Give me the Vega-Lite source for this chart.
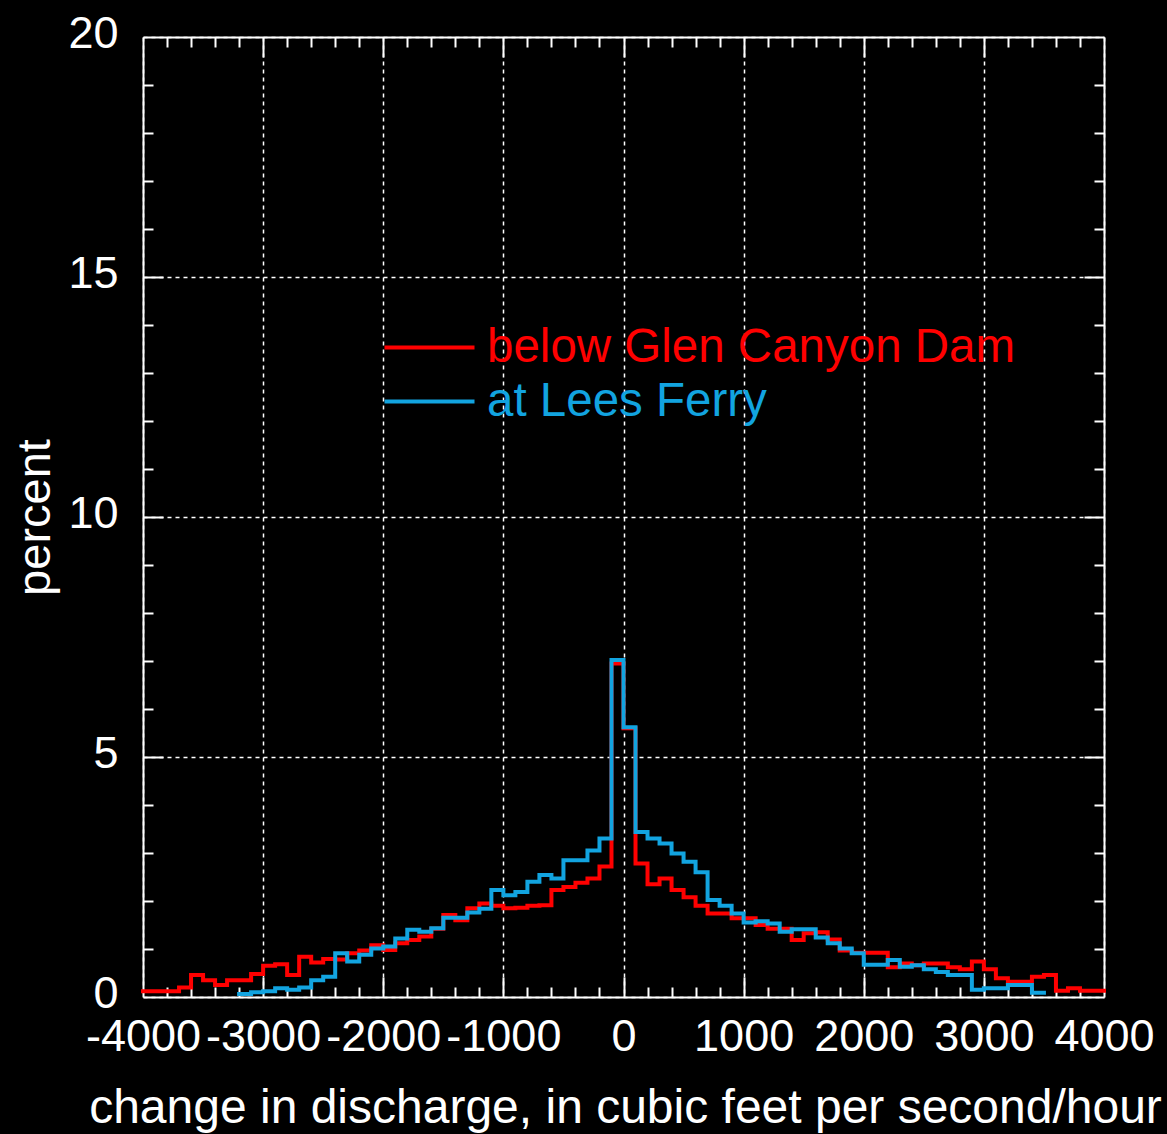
{
  "$schema": "https://vega.github.io/schema/vega-lite/v6.json",
  "width": 961,
  "height": 960,
  "autosize": {"type": "none"},
  "padding": {"left": 143, "top": 37, "right": 63, "bottom": 137},
  "background": "#000000",
  "config": {
    "view": {"stroke": null},
    "font": "Liberation Sans",
    "axis": {"domainColor": "#ffffff", "domainWidth": 2, "tickColor": "#ffffff", "tickWidth": 2, "labelColor": "#ffffff", "titleColor": "#ffffff", "gridColor": "#ffffff", "gridWidth": 1.5, "gridDash": [4, 4], "gridOpacity": 1}
  },
  "data": {"values": [
    {"s": "below Glen Canyon Dam", "x": -4000, "p": 0.12},
    {"s": "below Glen Canyon Dam", "x": -3900, "p": 0.12},
    {"s": "below Glen Canyon Dam", "x": -3800, "p": 0.12},
    {"s": "below Glen Canyon Dam", "x": -3700, "p": 0.2},
    {"s": "below Glen Canyon Dam", "x": -3600, "p": 0.46},
    {"s": "below Glen Canyon Dam", "x": -3500, "p": 0.35},
    {"s": "below Glen Canyon Dam", "x": -3400, "p": 0.25},
    {"s": "below Glen Canyon Dam", "x": -3300, "p": 0.35},
    {"s": "below Glen Canyon Dam", "x": -3200, "p": 0.35},
    {"s": "below Glen Canyon Dam", "x": -3100, "p": 0.48},
    {"s": "below Glen Canyon Dam", "x": -3000, "p": 0.65},
    {"s": "below Glen Canyon Dam", "x": -2900, "p": 0.68},
    {"s": "below Glen Canyon Dam", "x": -2800, "p": 0.46},
    {"s": "below Glen Canyon Dam", "x": -2700, "p": 0.84},
    {"s": "below Glen Canyon Dam", "x": -2600, "p": 0.72},
    {"s": "below Glen Canyon Dam", "x": -2500, "p": 0.79},
    {"s": "below Glen Canyon Dam", "x": -2400, "p": 0.78},
    {"s": "below Glen Canyon Dam", "x": -2300, "p": 0.91},
    {"s": "below Glen Canyon Dam", "x": -2200, "p": 0.97},
    {"s": "below Glen Canyon Dam", "x": -2100, "p": 1.08},
    {"s": "below Glen Canyon Dam", "x": -2000, "p": 0.98},
    {"s": "below Glen Canyon Dam", "x": -1900, "p": 1.12},
    {"s": "below Glen Canyon Dam", "x": -1800, "p": 1.19},
    {"s": "below Glen Canyon Dam", "x": -1700, "p": 1.26},
    {"s": "below Glen Canyon Dam", "x": -1600, "p": 1.42},
    {"s": "below Glen Canyon Dam", "x": -1500, "p": 1.71},
    {"s": "below Glen Canyon Dam", "x": -1400, "p": 1.6},
    {"s": "below Glen Canyon Dam", "x": -1300, "p": 1.85},
    {"s": "below Glen Canyon Dam", "x": -1200, "p": 1.95},
    {"s": "below Glen Canyon Dam", "x": -1100, "p": 1.9},
    {"s": "below Glen Canyon Dam", "x": -1000, "p": 1.85},
    {"s": "below Glen Canyon Dam", "x": -900, "p": 1.86},
    {"s": "below Glen Canyon Dam", "x": -800, "p": 1.9},
    {"s": "below Glen Canyon Dam", "x": -700, "p": 1.91},
    {"s": "below Glen Canyon Dam", "x": -600, "p": 2.23},
    {"s": "below Glen Canyon Dam", "x": -500, "p": 2.29},
    {"s": "below Glen Canyon Dam", "x": -400, "p": 2.38},
    {"s": "below Glen Canyon Dam", "x": -300, "p": 2.47},
    {"s": "below Glen Canyon Dam", "x": -200, "p": 2.72},
    {"s": "below Glen Canyon Dam", "x": -100, "p": 6.95},
    {"s": "below Glen Canyon Dam", "x": 0, "p": 5.6},
    {"s": "below Glen Canyon Dam", "x": 100, "p": 2.78},
    {"s": "below Glen Canyon Dam", "x": 200, "p": 2.35},
    {"s": "below Glen Canyon Dam", "x": 300, "p": 2.47},
    {"s": "below Glen Canyon Dam", "x": 400, "p": 2.23},
    {"s": "below Glen Canyon Dam", "x": 500, "p": 2.08},
    {"s": "below Glen Canyon Dam", "x": 600, "p": 1.9},
    {"s": "below Glen Canyon Dam", "x": 700, "p": 1.74},
    {"s": "below Glen Canyon Dam", "x": 800, "p": 1.74},
    {"s": "below Glen Canyon Dam", "x": 900, "p": 1.64},
    {"s": "below Glen Canyon Dam", "x": 1000, "p": 1.64},
    {"s": "below Glen Canyon Dam", "x": 1100, "p": 1.5},
    {"s": "below Glen Canyon Dam", "x": 1200, "p": 1.42},
    {"s": "below Glen Canyon Dam", "x": 1300, "p": 1.42},
    {"s": "below Glen Canyon Dam", "x": 1400, "p": 1.19},
    {"s": "below Glen Canyon Dam", "x": 1500, "p": 1.33},
    {"s": "below Glen Canyon Dam", "x": 1600, "p": 1.35},
    {"s": "below Glen Canyon Dam", "x": 1700, "p": 1.2},
    {"s": "below Glen Canyon Dam", "x": 1800, "p": 0.97},
    {"s": "below Glen Canyon Dam", "x": 1900, "p": 0.92},
    {"s": "below Glen Canyon Dam", "x": 2000, "p": 0.92},
    {"s": "below Glen Canyon Dam", "x": 2100, "p": 0.92},
    {"s": "below Glen Canyon Dam", "x": 2200, "p": 0.62},
    {"s": "below Glen Canyon Dam", "x": 2300, "p": 0.7},
    {"s": "below Glen Canyon Dam", "x": 2400, "p": 0.66},
    {"s": "below Glen Canyon Dam", "x": 2500, "p": 0.7},
    {"s": "below Glen Canyon Dam", "x": 2600, "p": 0.7},
    {"s": "below Glen Canyon Dam", "x": 2700, "p": 0.62},
    {"s": "below Glen Canyon Dam", "x": 2800, "p": 0.58},
    {"s": "below Glen Canyon Dam", "x": 2900, "p": 0.74},
    {"s": "below Glen Canyon Dam", "x": 3000, "p": 0.58},
    {"s": "below Glen Canyon Dam", "x": 3100, "p": 0.39},
    {"s": "below Glen Canyon Dam", "x": 3200, "p": 0.32},
    {"s": "below Glen Canyon Dam", "x": 3300, "p": 0.32},
    {"s": "below Glen Canyon Dam", "x": 3400, "p": 0.42},
    {"s": "below Glen Canyon Dam", "x": 3500, "p": 0.46},
    {"s": "below Glen Canyon Dam", "x": 3600, "p": 0.13},
    {"s": "below Glen Canyon Dam", "x": 3700, "p": 0.18},
    {"s": "below Glen Canyon Dam", "x": 3800, "p": 0.13},
    {"s": "below Glen Canyon Dam", "x": 3900, "p": 0.13},
    {"s": "below Glen Canyon Dam", "x": 4000, "p": 0.13},
    {"s": "at Lees Ferry", "x": -3200, "p": 0.06},
    {"s": "at Lees Ferry", "x": -3100, "p": 0.1},
    {"s": "at Lees Ferry", "x": -3000, "p": 0.12},
    {"s": "at Lees Ferry", "x": -2900, "p": 0.18},
    {"s": "at Lees Ferry", "x": -2800, "p": 0.15},
    {"s": "at Lees Ferry", "x": -2700, "p": 0.2},
    {"s": "at Lees Ferry", "x": -2600, "p": 0.35},
    {"s": "at Lees Ferry", "x": -2500, "p": 0.42},
    {"s": "at Lees Ferry", "x": -2400, "p": 0.91},
    {"s": "at Lees Ferry", "x": -2300, "p": 0.74},
    {"s": "at Lees Ferry", "x": -2200, "p": 0.88},
    {"s": "at Lees Ferry", "x": -2100, "p": 1.01},
    {"s": "at Lees Ferry", "x": -2000, "p": 1.05},
    {"s": "at Lees Ferry", "x": -1900, "p": 1.22},
    {"s": "at Lees Ferry", "x": -1800, "p": 1.4},
    {"s": "at Lees Ferry", "x": -1700, "p": 1.36},
    {"s": "at Lees Ferry", "x": -1600, "p": 1.43},
    {"s": "at Lees Ferry", "x": -1500, "p": 1.65},
    {"s": "at Lees Ferry", "x": -1400, "p": 1.65},
    {"s": "at Lees Ferry", "x": -1300, "p": 1.76},
    {"s": "at Lees Ferry", "x": -1200, "p": 1.84},
    {"s": "at Lees Ferry", "x": -1100, "p": 2.23},
    {"s": "at Lees Ferry", "x": -1000, "p": 2.12},
    {"s": "at Lees Ferry", "x": -900, "p": 2.19},
    {"s": "at Lees Ferry", "x": -800, "p": 2.4},
    {"s": "at Lees Ferry", "x": -700, "p": 2.54},
    {"s": "at Lees Ferry", "x": -600, "p": 2.47},
    {"s": "at Lees Ferry", "x": -500, "p": 2.85},
    {"s": "at Lees Ferry", "x": -400, "p": 2.85},
    {"s": "at Lees Ferry", "x": -300, "p": 3.05},
    {"s": "at Lees Ferry", "x": -200, "p": 3.3},
    {"s": "at Lees Ferry", "x": -100, "p": 7.02},
    {"s": "at Lees Ferry", "x": 0, "p": 5.62},
    {"s": "at Lees Ferry", "x": 100, "p": 3.44},
    {"s": "at Lees Ferry", "x": 200, "p": 3.3},
    {"s": "at Lees Ferry", "x": 300, "p": 3.2},
    {"s": "at Lees Ferry", "x": 400, "p": 2.99},
    {"s": "at Lees Ferry", "x": 500, "p": 2.82},
    {"s": "at Lees Ferry", "x": 600, "p": 2.6},
    {"s": "at Lees Ferry", "x": 700, "p": 2.02},
    {"s": "at Lees Ferry", "x": 800, "p": 1.9},
    {"s": "at Lees Ferry", "x": 900, "p": 1.74},
    {"s": "at Lees Ferry", "x": 1000, "p": 1.55},
    {"s": "at Lees Ferry", "x": 1100, "p": 1.58},
    {"s": "at Lees Ferry", "x": 1200, "p": 1.53},
    {"s": "at Lees Ferry", "x": 1300, "p": 1.36},
    {"s": "at Lees Ferry", "x": 1400, "p": 1.41},
    {"s": "at Lees Ferry", "x": 1500, "p": 1.41},
    {"s": "at Lees Ferry", "x": 1600, "p": 1.24},
    {"s": "at Lees Ferry", "x": 1700, "p": 1.12},
    {"s": "at Lees Ferry", "x": 1800, "p": 1.01},
    {"s": "at Lees Ferry", "x": 1900, "p": 0.91},
    {"s": "at Lees Ferry", "x": 2000, "p": 0.67},
    {"s": "at Lees Ferry", "x": 2100, "p": 0.67},
    {"s": "at Lees Ferry", "x": 2200, "p": 0.77},
    {"s": "at Lees Ferry", "x": 2300, "p": 0.63},
    {"s": "at Lees Ferry", "x": 2400, "p": 0.66},
    {"s": "at Lees Ferry", "x": 2500, "p": 0.58},
    {"s": "at Lees Ferry", "x": 2600, "p": 0.52},
    {"s": "at Lees Ferry", "x": 2700, "p": 0.46},
    {"s": "at Lees Ferry", "x": 2800, "p": 0.46},
    {"s": "at Lees Ferry", "x": 2900, "p": 0.15},
    {"s": "at Lees Ferry", "x": 3000, "p": 0.18},
    {"s": "at Lees Ferry", "x": 3100, "p": 0.18},
    {"s": "at Lees Ferry", "x": 3200, "p": 0.25},
    {"s": "at Lees Ferry", "x": 3300, "p": 0.25},
    {"s": "at Lees Ferry", "x": 3400, "p": 0.09},
    {"s": "at Lees Ferry", "x": 3500, "p": 0.09}
  ]},
  "resolve": {"axis": {"x": "independent", "y": "independent"}},
  "layer": [
    {
      "mark": {"type": "line", "interpolate": "step-after", "strokeWidth": 4, "strokeJoin": "miter", "strokeCap": "square"},
      "encoding": {
        "x": {"field": "x", "type": "quantitative", "scale": {"domain": [-4000, 4000], "nice": false, "zero": false},
          "axis": {"orient": "bottom", "values": [-4000, -3000, -2000, -1000, 0, 1000, 2000, 3000, 4000], "grid": true, "ticks": false, "domain": true, "labelFontSize": 45, "labelPadding": 17, "labelFlush": false, "labelOverlap": false, "labelBound": false,
            "labelExpr": "datum.value < 0 ? '-' + (-datum.value) : '' + datum.value",
            "title": "change in discharge, in cubic feet per second/hour", "titleFontSize": 48, "titleFontWeight": "normal", "titleX": 482, "titleY": 111, "titleBaseline": "middle", "titleAlign": "center"}},
        "y": {"field": "p", "type": "quantitative", "scale": {"domain": [0, 20], "nice": false},
          "axis": {"orient": "left", "values": [0, 5, 10, 15, 20], "grid": true, "ticks": false, "domain": true, "labelFontSize": 45, "labelPadding": 25, "labelBaseline": "middle", "labelOffset": -4,
            "title": "percent", "titleFontSize": 47, "titleFontWeight": "normal", "titleX": -108, "titleY": 480, "titleBaseline": "middle", "titleAlign": "center", "titleAngle": -90}},
        "color": {"field": "s", "type": "nominal",
          "scale": {"domain": ["below Glen Canyon Dam", "at Lees Ferry"], "range": ["#ff0000", "#12a4e0"]},
          "legend": {"title": null, "orient": "none", "legendX": 262, "legendY": 286, "padding": 0,
            "symbolType": "M-2,0H2", "symbolSize": 2025, "symbolStrokeWidth": 4, "symbolFillColor": "transparent",
            "labelFontSize": 47.5, "labelOffset": 33, "rowPadding": 6, "labelLimit": 0,
            "encode": {"labels": {"update": {"fill": {"signal": "datum.label === 'at Lees Ferry' ? '#12a4e0' : '#ff0000'"}}}}}}
      }
    },
    {
      "mark": {"type": "line", "opacity": 0},
      "encoding": {
        "x": {"field": "x", "type": "quantitative", "axis": {"orient": "bottom", "values": [-3800,-3600,-3400,-3200,-2800,-2600,-2400,-2200,-1800,-1600,-1400,-1200,-800,-600,-400,-200,200,400,600,800,1200,1400,1600,1800,2200,2400,2600,2800,3200,3400,3600,3800], "labels": false, "grid": false, "domain": false, "tickSize": -10, "title": null}},
        "y": {"field": "p", "type": "quantitative", "axis": {"orient": "left", "values": [1,2,3,4,6,7,8,9,11,12,13,14,16,17,18,19], "labels": false, "grid": false, "domain": false, "tickSize": -10, "title": null}}
      }
    },
    {
      "mark": {"type": "line", "opacity": 0},
      "encoding": {
        "x": {"field": "x", "type": "quantitative", "axis": {"orient": "bottom", "values": [-3000, -2000, -1000, 0, 1000, 2000, 3000], "labels": false, "grid": false, "domain": false, "tickSize": -20, "title": null}},
        "y": {"field": "p", "type": "quantitative", "axis": {"orient": "left", "values": [5, 10, 15], "labels": false, "grid": false, "domain": false, "tickSize": -20, "title": null}}
      }
    },
    {
      "mark": {"type": "line", "opacity": 0},
      "encoding": {
        "x": {"field": "x", "type": "quantitative", "axis": {"orient": "top", "values": [-3800,-3600,-3400,-3200,-2800,-2600,-2400,-2200,-1800,-1600,-1400,-1200,-800,-600,-400,-200,200,400,600,800,1200,1400,1600,1800,2200,2400,2600,2800,3200,3400,3600,3800], "labels": false, "grid": false, "domain": true, "tickSize": -10, "title": null}},
        "y": {"field": "p", "type": "quantitative", "axis": {"orient": "right", "values": [1,2,3,4,6,7,8,9,11,12,13,14,16,17,18,19], "labels": false, "grid": false, "domain": true, "tickSize": -10, "title": null}}
      }
    },
    {
      "mark": {"type": "line", "opacity": 0},
      "encoding": {
        "x": {"field": "x", "type": "quantitative", "axis": {"orient": "top", "values": [-3000, -2000, -1000, 0, 1000, 2000, 3000], "labels": false, "grid": false, "domain": false, "tickSize": -20, "title": null}},
        "y": {"field": "p", "type": "quantitative", "axis": {"orient": "right", "values": [5, 10, 15], "labels": false, "grid": false, "domain": false, "tickSize": -20, "title": null}}
      }
    }
  ]
}
